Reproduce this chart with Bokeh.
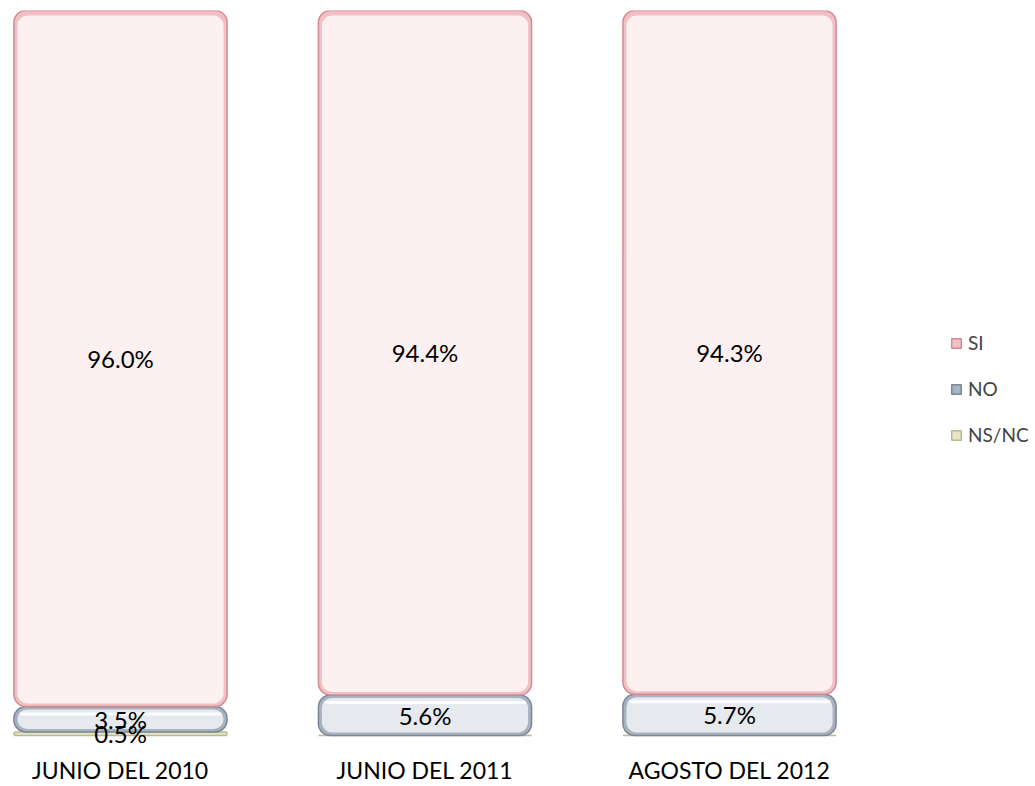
from bokeh.plotting import figure
from bokeh.models import ColumnDataSource, Legend, LegendItem, FixedTicker, LabelSet
from bokeh.core.properties import value
from bokeh.embed import file_html
from bokeh.resources import INLINE

# Survey periods and answer shares (%)
periods = ["JUNIO DEL 2010", "JUNIO DEL 2011", "AGOSTO DEL 2012"]
si = [96.0, 94.4, 94.3]
no = [3.5, 5.6, 5.7]
nsnc = [0.5, 0.0, 0.0]

xs = list(range(len(periods)))
FONT = "Lato"

# stacked boundaries, bottom to top: NS/NC, NO, SI
b_ns = [0.0] * len(xs)
t_ns = [b + v for b, v in zip(b_ns, nsnc)]
t_no = [b + v for b, v in zip(t_ns, no)]
t_si = [b + v for b, v in zip(t_no, si)]

W, H = 1035, 786
px_per_unit = 304.5
left_center = 120.0
py = 100.0 / 727.0             # data units per vertical pixel
y_low = -16 * py               # a little room under the baseline for the lowest label
bw = 0.70
inset_w = bw - 7.0 / px_per_unit

src = ColumnDataSource(dict(
    x=xs, b_ns=b_ns, t_ns=t_ns, t_no=t_no, t_si=t_si,
    # inner faces, a few pixels inside each segment for the bevelled look
    no_in_b=[b + 3 * py for b in t_ns], no_in_t=[t - 3 * py for t in t_no],
    si_in_b=[b + 3 * py for b in t_no], si_in_t=[t - 5 * py for t in t_si],
    no_hi_b=[t - 9 * py for t in t_no], no_hi_t=[t - 6 * py for t in t_no],
))

p = figure(width=W, height=H, output_backend="svg", toolbar_location=None,
           x_range=(-left_center / px_per_unit, (W - left_center) / px_per_unit),
           y_range=(y_low, 100), y_axis_location=None,
           min_border_left=0, min_border_right=0, min_border_top=10,
           min_border_bottom=33)
p.outline_line_color = None
p.xgrid.visible = False
p.ygrid.visible = False
p.background_fill_color = "white"
p.border_fill_color = "white"

r_ns = p.vbar(x="x", bottom="b_ns", top="t_ns", width=bw, source=src,
              fill_color="#e4e6c4", line_color="#b9ba8e", line_width=1.5,
              border_radius=6)
r_no = p.vbar(x="x", bottom="t_ns", top="t_no", width=bw, source=src,
              fill_color="#a9b2bf", line_color="#7b8696", line_width=1.5,
              border_radius=12)
p.vbar(x="x", bottom="no_in_b", top="no_in_t", width=inset_w, source=src,
       fill_color="#e6e9ee", line_color=None, border_radius=10)
p.vbar(x="x", bottom="no_hi_b", top="no_hi_t", width=inset_w - 4 / px_per_unit,
       source=src, fill_color="white", fill_alpha=0.9, line_color=None,
       border_radius=2)
r_si = p.vbar(x="x", bottom="t_no", top="t_si", width=bw, source=src,
              fill_color="#f1c0c5", line_color="#d48a93", line_width=1.5,
              border_radius=12)
p.vbar(x="x", bottom="si_in_b", top="si_in_t", width=inset_w, source=src,
       fill_color="#fdf0f1", line_color=None, border_radius=10)

# value labels centred in each segment
lab_x, lab_y, lab_t = [], [], []
for i in xs:
    for lo, v in ((b_ns[i], nsnc[i]), (t_ns[i], no[i]), (t_no[i], si[i])):
        if v > 0:
            lab_x.append(i)
            lab_y.append(lo + v / 2)
            lab_t.append(f"{v:.1f}%")
lab_src = ColumnDataSource(dict(x=lab_x, y=lab_y, t=lab_t))
p.add_layout(LabelSet(x="x", y="y", text="t", source=lab_src,
                      text_align="center", text_baseline="middle",
                      text_font=value(FONT), text_font_size="24px",
                      text_color="black"))

ax = p.xaxis[0]
ax.ticker = FixedTicker(ticks=xs)
ax.major_label_overrides = {i: name for i, name in zip(xs, periods)}
ax.axis_line_color = None
ax.major_tick_line_color = None
ax.minor_tick_line_color = None
ax.major_tick_out = 0
ax.major_tick_in = 0
ax.major_label_text_font = FONT
ax.major_label_text_font_size = "23px"
ax.major_label_text_color = "black"
ax.major_label_standoff = 4

legend = Legend(items=[LegendItem(label="SI", renderers=[r_si]),
                       LegendItem(label="NO", renderers=[r_no]),
                       LegendItem(label="NS/NC", renderers=[r_ns])],
                location=(950, 305), padding=0, margin=0, spacing=23,
                glyph_width=12, glyph_height=12, label_height=20,
                label_standoff=6, border_line_color=None,
                background_fill_alpha=0,
                label_text_font=FONT, label_text_font_size="19px")
p.add_layout(legend)

open("out.html", "w").write(file_html(p, INLINE))
